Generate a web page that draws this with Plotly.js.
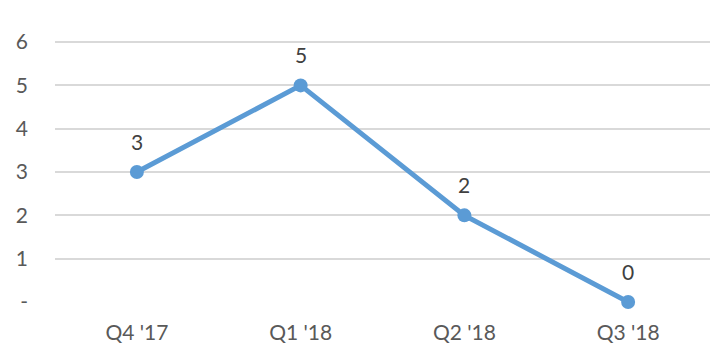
<!DOCTYPE html>
<html>
<head>
<meta charset="utf-8">
<script src="https://cdn.plot.ly/plotly-3.0.1.min.js"></script>
<style>html,body{margin:0;padding:0;background:#fff;}#chart{width:718px;height:349px;}</style>
</head>
<body>
<div id="chart"></div>
<script>
const categories = ["Q4 '17", "Q1 '18", "Q2 '18", "Q3 '18"];
const values = [3, 5, 2, 0];
const yTickVals = [0, 1, 2, 3, 4, 5, 6];
const yTickText = ["-", "1", "2", "3", "4", "5", "6"];

const font = "Lato, 'Open Sans', sans-serif";
const trace = {
  x: categories,
  y: values,
  type: 'scatter',
  mode: 'lines+markers',
  line: {color: '#5B9BD5', width: 5},
  marker: {color: '#5B9BD5', size: 14},
  cliponaxis: false,
  hoverinfo: 'none'
};
const annotations = categories.map((c, i) => ({
  x: c, y: values[i], xref: 'x', yref: 'y',
  text: String(values[i]), showarrow: false, yshift: 31,
  font: {family: font, size: 21, color: '#404040'}
}));
const layout = {
  width: 718, height: 349,
  margin: {l: 55, r: 8, t: 41, b: 47},
  paper_bgcolor: '#fff', plot_bgcolor: '#fff',
  showlegend: false,
  font: {family: font, size: 21, color: '#595959'},
  xaxis: {
    type: 'category', range: [-0.5, 3.5],
    showgrid: false, zeroline: false, showline: false,
    ticks: '', ticklabelstandoff: 16,
    tickfont: {family: font, size: 21, color: '#595959'}
  },
  yaxis: {
    range: [0, 6.025], tickvals: yTickVals, ticktext: yTickText,
    showgrid: true, gridcolor: '#D9D9D9', gridwidth: 2,
    zeroline: false, showline: false, ticks: '',
    ticklabelstandoff: 26,
    tickfont: {family: font, size: 21, color: '#595959'}
  },
  annotations: annotations
};
Plotly.newPlot('chart', [trace], layout, {displayModeBar: false, staticPlot: true});
</script>
</body>
</html>
